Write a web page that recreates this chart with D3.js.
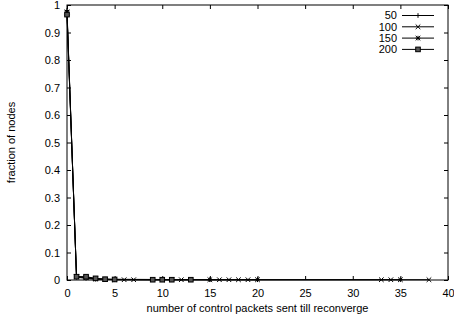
<!DOCTYPE html>
<html>
<head>
<meta charset="utf-8">
<script src="https://cdn.jsdelivr.net/npm/d3@7"></script>
<style>
  body { margin: 0; background: #fff; }
  svg text { font-family: "Liberation Sans", Arial, sans-serif; font-size: 11px; fill: #000; }
</style>
</head>
<body>
<svg width="454" height="320"></svg>
<script>
// values
var seriesNames = ["50", "100", "150", "200"];
var x50 = [0, 1, 2, 3, 15, 20];
var y50 = [0.98, 0.01, 0.006, 0.003, 0.001, 0.001];
var x100 = [0, 1, 2, 3, 4, 6, 7, 12, 16, 17, 18, 19, 33, 34, 38];
var y100 = [0.975, 0.012, 0.008, 0.004, 0.002, 0.001, 0.001, 0.001, 0.001, 0.001, 0.001, 0.001, 0.001, 0.001, 0.001];
var x150 = [0, 1, 2, 3, 4, 5, 10, 11, 15, 20, 35];
var y150 = [0.97, 0.012, 0.01, 0.005, 0.003, 0.001, 0.001, 0.001, 0.001, 0.001, 0.001];
var x200 = [0, 1, 2, 3, 4, 5, 9, 10, 11, 13];
var y200 = [0.965, 0.012, 0.012, 0.006, 0.003, 0.002, 0.001, 0.001, 0.001, 0.001];
var xTicks = [0, 5, 10, 15, 20, 25, 30, 35, 40];
var yTicks = [0, 0.1, 0.2, 0.3, 0.4, 0.5, 0.6, 0.7, 0.8, 0.9, 1];

var margin = {top: 5, right: 6, bottom: 40, left: 67};
var width = 454 - margin.left - margin.right;
var height = 320 - margin.top - margin.bottom;

var svg = d3.select("svg").append("g")
  .attr("transform", "translate(" + margin.left + "," + margin.top + ")");

var scaleX = d3.scaleLinear().domain([0, 40]).range([0, width]);
var scaleY = d3.scaleLinear().domain([0, 1]).range([height, 0]);

var fmt = function(d) { return d3.format("")(+d.toFixed(1)); };

// gnuplot style: ticks pointing inward on all four sides
svg.append("g").attr("transform", "translate(0," + height + ")")
  .call(d3.axisBottom(scaleX).tickValues(xTicks).tickSize(-4).tickPadding(9).tickFormat(fmt));
svg.append("g")
  .call(d3.axisTop(scaleX).tickValues(xTicks).tickSize(-4).tickFormat(""));
svg.append("g")
  .call(d3.axisLeft(scaleY).tickValues(yTicks).tickSize(-4).tickPadding(7).tickFormat(fmt));
svg.append("g").attr("transform", "translate(" + width + ",0)")
  .call(d3.axisRight(scaleY).tickValues(yTicks).tickSize(-4).tickFormat(""));

svg.selectAll(".domain").remove();
svg.selectAll(".tick line").attr("stroke", "#000");
svg.selectAll(".tick text").style("font-size", "11px");

svg.append("rect").attr("width", width).attr("height", height)
  .attr("fill", "none").attr("stroke", "#000").attr("stroke-width", 1);

var series = [
  {name: seriesNames[0], xs: x50, ys: y50, mark: "plus"},
  {name: seriesNames[1], xs: x100, ys: y100, mark: "cross"},
  {name: seriesNames[2], xs: x150, ys: y150, mark: "star"},
  {name: seriesNames[3], xs: x200, ys: y200, mark: "box"}
];

function drawMark(g, kind, cx, cy) {
  var s = 2.3;
  if (kind == "plus" || kind == "star") {
    g.append("path").attr("d", "M" + (cx - s) + "," + cy + "h" + 2 * s + "M" + cx + "," + (cy - s) + "v" + 2 * s)
      .attr("stroke", "#000").attr("fill", "none");
  }
  if (kind == "cross" || kind == "star") {
    g.append("path").attr("d", "M" + (cx - s) + "," + (cy - s) + "l" + 2 * s + "," + 2 * s + "M" + (cx - s) + "," + (cy + s) + "l" + 2 * s + "," + (-2 * s))
      .attr("stroke", "#000").attr("fill", "none");
  }
  if (kind == "box") {
    g.append("rect").attr("x", cx - s).attr("y", cy - s).attr("width", 2 * s).attr("height", 2 * s)
      .attr("stroke", "#000").attr("fill", "#555");
  }
}

var line = d3.line().x(function(d) { return scaleX(d[0]); }).y(function(d) { return scaleY(d[1]); });

series.forEach(function(s, i) {
  var pts = s.xs.map(function(x, j) { return [x, s.ys[j]]; });
  var g = svg.append("g");
  g.append("path").datum(pts).attr("d", line)
    .attr("fill", "none").attr("stroke", "#000").attr("stroke-width", 1);
  pts.forEach(function(p) { drawMark(g, s.mark, scaleX(p[0]), scaleY(p[1])); });

  // legend
  var ly = 10.5 + i * 11.3;
  var lg = svg.append("g");
  lg.append("text").attr("x", 397 - margin.left).attr("y", ly).attr("dy", "0.35em")
    .attr("text-anchor", "end").text(s.name);
  lg.append("line").attr("x1", 402 - margin.left).attr("x2", 434 - margin.left)
    .attr("y1", ly).attr("y2", ly).attr("stroke", "#000");
  drawMark(lg, s.mark, 418 - margin.left, ly);
});

// axis titles
svg.append("text").attr("x", width / 2).attr("y", height + 32).attr("text-anchor", "middle")
  .text("number of control packets sent till reconverge");
svg.append("text").attr("transform", "translate(" + (-52) + "," + (height / 2) + ") rotate(-90)")
  .attr("text-anchor", "middle").text("fraction of nodes");
</script>
</body>
</html>
